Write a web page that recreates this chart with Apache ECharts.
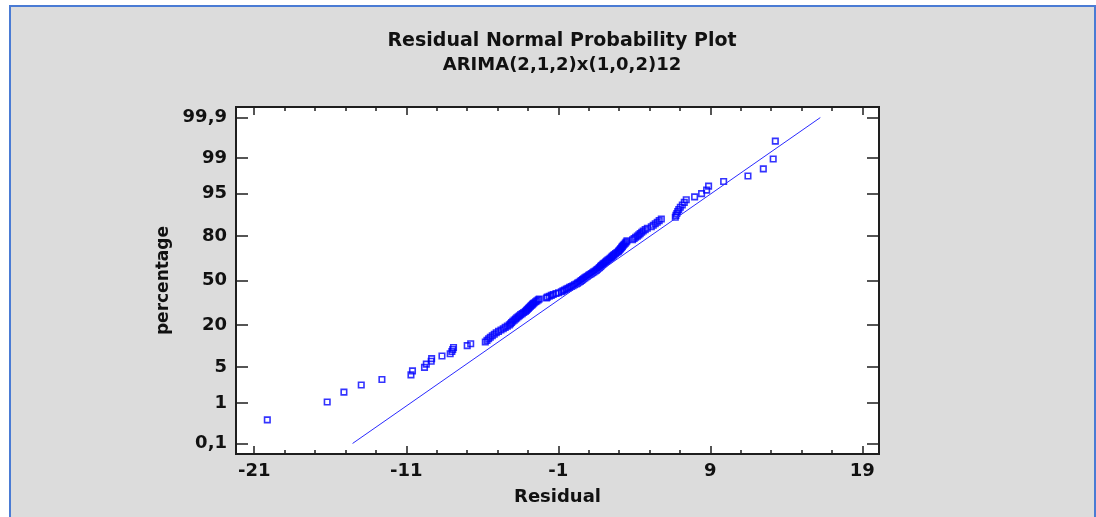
<!DOCTYPE html>
<html>
<head>
<meta charset="utf-8">
<script src="https://cdn.jsdelivr.net/npm/echarts@6/dist/echarts.min.js"></script>
<style>
  html, body { margin: 0; padding: 0; background: #fff; }
  #frame { position: absolute; left: 9px; top: 5px; width: 1083px; height: 600px;
           border: 2px solid #4a7bd4; background: #dcdcdc; }
  #diagram { position: absolute; left: 0; top: 0; width: 1096px; height: 517px; }
</style>
</head>
<body>
<div id="frame"></div>
<div id="diagram"></div>
<script>
// residuals, sorted
var residuals = [
  -20.14, -16.20, -15.10, -13.96, -12.60, -10.69, -10.59, -9.80, -9.68, -9.36,
  -9.33, -8.65, -8.11, -8.00, -7.94, -7.89, -6.99, -6.76, -5.80, -5.69,
  -5.58, -5.47, -5.34, -5.21, -5.08, -4.93, -4.77, -4.62, -4.49, -4.35,
  -4.22, -4.14, -4.07, -3.99, -3.90, -3.81, -3.73, -3.64, -3.56, -3.47,
  -3.37, -3.27, -3.17, -3.10, -3.04, -2.97, -2.91, -2.84, -2.78, -2.71,
  -2.65, -2.58, -2.49, -2.41, -2.32, -2.25, -1.78, -1.72, -1.59, -1.46,
  -1.33, -1.15, -0.98, -0.80, -0.69, -0.58, -0.47, -0.36, -0.25, -0.14,
  -0.03, 0.07, 0.18, 0.27, 0.36, 0.45, 0.52, 0.60, 0.67, 0.75,
  0.83, 0.91, 1.00, 1.08, 1.17, 1.26, 1.34, 1.43, 1.51, 1.58,
  1.66, 1.72, 1.78, 1.83, 1.90, 1.96, 2.03, 2.11, 2.18, 2.26,
  2.34, 2.41, 2.49, 2.55, 2.62, 2.68, 2.77, 2.86, 2.95, 3.00,
  3.06, 3.11, 3.17, 3.22, 3.28, 3.34, 3.41, 3.47, 3.52, 3.89,
  3.99, 4.09, 4.20, 4.30, 4.39, 4.49, 4.59, 4.72, 4.86, 5.12,
  5.25, 5.38, 5.51, 5.64, 5.78, 6.70, 6.74, 6.80, 6.86, 6.93,
  7.03, 7.16, 7.29, 7.42, 7.97, 8.43, 8.76, 8.89, 9.88, 11.48,
  12.49, 13.14, 13.28
];
// cumulative percentage of each point
var percentages = [
  0.41, 1.06, 1.71, 2.37, 3.02, 3.67, 4.32, 4.98, 5.63, 6.28,
  6.93, 7.59, 8.24, 8.89, 9.54, 10.20, 10.85, 11.50, 12.15, 12.81,
  13.46, 14.11, 14.76, 15.42, 16.07, 16.72, 17.37, 18.03, 18.68, 19.33,
  19.98, 20.64, 21.29, 21.94, 22.59, 23.25, 23.90, 24.55, 25.20, 25.86,
  26.51, 27.16, 27.81, 28.47, 29.12, 29.77, 30.42, 31.08, 31.73, 32.38,
  33.03, 33.69, 34.34, 34.99, 35.64, 36.30, 36.95, 37.60, 38.25, 38.91,
  39.56, 40.21, 40.86, 41.52, 42.17, 42.82, 43.47, 44.13, 44.78, 45.43,
  46.08, 46.74, 47.39, 48.04, 48.69, 49.35, 50.00, 50.65, 51.31, 51.96,
  52.61, 53.26, 53.92, 54.57, 55.22, 55.87, 56.53, 57.18, 57.83, 58.48,
  59.14, 59.79, 60.44, 61.09, 61.75, 62.40, 63.05, 63.70, 64.36, 65.01,
  65.66, 66.31, 66.97, 67.62, 68.27, 68.92, 69.58, 70.23, 70.88, 71.53,
  72.19, 72.84, 73.49, 74.14, 74.80, 75.45, 76.10, 76.75, 77.41, 78.06,
  78.71, 79.36, 80.02, 80.67, 81.32, 81.97, 82.63, 83.28, 83.93, 84.58,
  85.24, 85.89, 86.54, 87.19, 87.85, 88.50, 89.15, 89.80, 90.46, 91.11,
  91.76, 92.41, 93.07, 93.72, 94.37, 95.02, 95.68, 96.33, 96.98, 97.63,
  98.29, 98.94, 99.59
];
// reference line ends
var fitResid = [-14.53, 16.24];
var fitPct = [0.1, 99.9];

var yTickPct = [0.1, 1, 5, 20, 50, 80, 95, 99, 99.9];
var yTickLabels = ['0,1', '1', '5', '20', '50', '80', '95', '99', '99,9'];
var xMajor = [-21, -11, -1, 9, 19];
var xMinor = [-19, -17, -15, -13, -9, -7, -5, -3, 1, 3, 5, 7, 11, 13, 15, 17];

// normal quantile (probability scale of the y axis)
function probit(p) {
  var a = [-3.969683028665376e+01, 2.209460984245205e+02, -2.759285104469687e+02, 1.383577518672690e+02, -3.066479806614716e+01, 2.506628277459239e+00];
  var b = [-5.447609879822406e+01, 1.615858368580409e+02, -1.556989798598866e+02, 6.680131188771972e+01, -1.328068155288572e+01];
  var c = [-7.784894002430293e-03, -3.223964580411365e-01, -2.400758277161838e+00, -2.549671348191540e+00, 4.374664141464968e+00, 2.938163982698783e+00];
  var d = [7.784695709041462e-03, 3.224671290700398e-01, 2.445134137142996e+00, 3.754408661907416e+00];
  var q, r;
  if (p < 0.02425) {
    q = Math.sqrt(-2 * Math.log(p));
    return (((((c[0]*q+c[1])*q+c[2])*q+c[3])*q+c[4])*q+c[5]) / ((((d[0]*q+d[1])*q+d[2])*q+d[3])*q+1);
  }
  if (p > 1 - 0.02425) {
    q = Math.sqrt(-2 * Math.log(1 - p));
    return -(((((c[0]*q+c[1])*q+c[2])*q+c[3])*q+c[4])*q+c[5]) / ((((d[0]*q+d[1])*q+d[2])*q+d[3])*q+1);
  }
  q = p - 0.5; r = q * q;
  return (((((a[0]*r+a[1])*r+a[2])*r+a[3])*r+a[4])*r+a[5])*q / (((((b[0]*r+b[1])*r+b[2])*r+b[3])*r+b[4])*r+1);
}

var yTickZ = yTickPct.map(function (p) { return probit(p / 100); });
var points = residuals.map(function (v, i) { return [v, probit(percentages[i] / 100)]; });
var fitLine = fitResid.map(function (v, i) { return [v, probit(fitPct[i] / 100)]; });

var font = { fontFamily: 'DejaVu Sans', fontWeight: 'bold', color: '#111' };
var lineCol = '#1e1e1e';

function xAx(pos, ticks, len, labels) {
  return {
    type: 'value', position: pos, min: -22.2, max: 20.1,
    axisLine: { show: true, onZero: false, lineStyle: { color: lineCol, width: 2 } },
    axisTick: { show: true, inside: true, length: len, customValues: ticks, lineStyle: { color: lineCol, width: 1.5 } },
    axisLabel: labels ? Object.assign({ customValues: xMajor, fontSize: 18, margin: 8 }, font) : { show: false },
    splitLine: { show: false }
  };
}
function yAx(pos, labels) {
  return {
    type: 'value', position: pos, min: probit(0.0005), max: probit(0.9995),
    axisLine: { show: true, onZero: false, lineStyle: { color: lineCol, width: 2 } },
    axisTick: { show: true, inside: true, length: 12, customValues: yTickZ, lineStyle: { color: lineCol, width: 1.5 } },
    axisLabel: labels ? Object.assign({
      customValues: yTickZ, fontSize: 18, margin: 9,
      formatter: function (v) {
        var best = 0;
        yTickZ.forEach(function (z, i) { if (Math.abs(z - v) < Math.abs(yTickZ[best] - v)) best = i; });
        return yTickLabels[best];
      }
    }, font) : { show: false },
    splitLine: { show: false }
  };
}

var myChart = echarts.init(document.getElementById('diagram'));

var xBottom = xAx('bottom', xMajor, 8, true);
xBottom.name = 'Residual';
xBottom.nameLocation = 'middle';
xBottom.nameGap = 34;
xBottom.nameTextStyle = Object.assign({ fontSize: 18 }, font);

var yLeft = yAx('left', true);
yLeft.name = 'percentage';
yLeft.nameLocation = 'middle';
yLeft.nameGap = 58;
yLeft.nameTextStyle = Object.assign({ fontSize: 17 }, font);

var option = {
  animation: false,
  backgroundColor: 'transparent',
  title: {
    text: 'Residual Normal Probability Plot',
    subtext: 'ARIMA(2,1,2)x(1,0,2)12',
    left: 557, top: 27, textAlign: 'center', itemGap: 5,
    textStyle: Object.assign({ fontSize: 19 }, font),
    subtextStyle: Object.assign({ fontSize: 18 }, font)
  },
  grid: { left: 236, top: 107, width: 643, height: 347, show: true, backgroundColor: '#fff', borderWidth: 0 },
  xAxis: [
    xBottom,
    xAx('bottom', xMinor, 4, false),
    xAx('top', xMajor, 8, false),
    xAx('top', xMinor, 4, false)
  ],
  yAxis: [yLeft, yAx('right', false)],
  series: [
    {
      type: 'line', data: fitLine, symbol: 'none', silent: true,
      lineStyle: { color: '#2a2aff', width: 1 }
    },
    {
      type: 'scatter', data: points, symbol: 'rect', symbolSize: 5.5, silent: true,
      itemStyle: { color: 'rgba(0,0,0,0)', borderColor: '#0000ff', borderWidth: 1.6 }
    }
  ]
};

myChart.setOption(option);
</script>
</body>
</html>
